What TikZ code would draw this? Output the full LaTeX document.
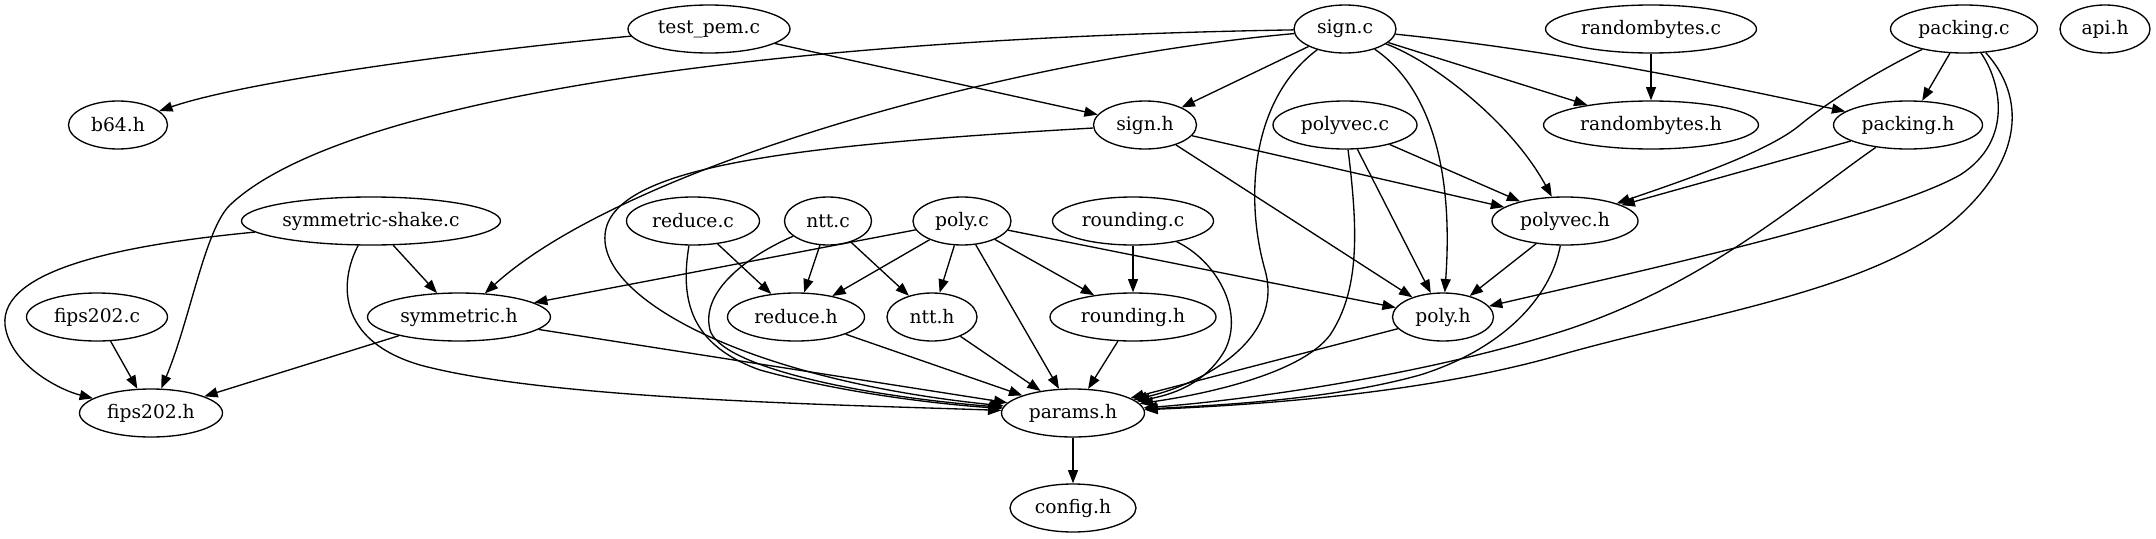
\documentclass[tikz,border=0pt]{standalone}
\usepackage{fontspec}
\setmainfont{DejaVu Serif}
\usetikzlibrary{shapes.geometric,arrows.meta}
\tikzset{
  nd/.style={ellipse, draw, line width=1pt, minimum height=36pt, inner sep=0pt,
             font=\fontsize{14}{16}\selectfont},
  ed/.style={-{Triangle[length=10pt,width=7.5pt]}, line width=1pt},
}
\begin{document}
\begin{tikzpicture}[x=0.75pt,y=-0.75pt]
\useasboundingbox (0,0) rectangle (2156,539);
% row 1
\node[nd, minimum width=121.5pt]  (test_pem) at (709,29)  {test\_pem.c};
\node[nd, minimum width=76.5pt]   (signc)    at (1345,29) {sign.c};
\node[nd, minimum width=158.25pt] (randc)    at (1651,29) {randombytes.c};
\node[nd, minimum width=110.25pt] (packc)    at (1964,29) {packing.c};
\node[nd, minimum width=67.5pt]   (api)      at (2105,29) {api.h};
% row 2
\node[nd, minimum width=74.25pt]  (b64)      at (118,125)  {b64.h};
\node[nd, minimum width=77.25pt]  (signh)    at (1145,125) {sign.h};
\node[nd, minimum width=108pt]    (polyvecc) at (1345,125) {polyvec.c};
\node[nd, minimum width=161.25pt] (randh)    at (1651,125) {randombytes.h};
\node[nd, minimum width=111.75pt] (packh)    at (1908,125) {packing.h};
% row 3
\node[nd, minimum width=194.25pt] (symshake) at (371,221)  {symmetric-shake.c};
\node[nd, minimum width=99.75pt]  (reducec)  at (693,221)  {reduce.c};
\node[nd, minimum width=65.25pt]  (nttc)     at (828,221)  {ntt.c};
\node[nd, minimum width=73.5pt]   (polyc)    at (962,221)  {poly.c};
\node[nd, minimum width=120.75pt] (roundc)   at (1133,221) {rounding.c};
\node[nd, minimum width=109.5pt]  (polyvech) at (1565,221) {polyvec.h};
% row 4
\node[nd, minimum width=105.75pt] (fipsc)    at (97,317)   {fips202.c};
\node[nd, minimum width=137.25pt] (symh)     at (459,317)  {symmetric.h};
\node[nd, minimum width=102.75pt] (reduceh)  at (796,317)  {reduce.h};
\node[nd, minimum width=67.5pt]   (ntth)     at (932,317)  {ntt.h};
\node[nd, minimum width=124.5pt]  (roundh)   at (1133,317) {rounding.h};
\node[nd, minimum width=75.75pt]  (polyh)    at (1443,317) {poly.h};
% row 5-6
\node[nd, minimum width=107.25pt] (fipsh)    at (151,413)  {fips202.h};
\node[nd, minimum width=107.25pt] (params)   at (1073,413) {params.h};
\node[nd, minimum width=94.5pt]   (config)   at (1073,508) {config.h};

% test_pem.c
\draw[ed] (test_pem) .. controls (480,50) and (250,80) .. (b64);
\draw[ed] (test_pem) -- (signh);
% sign.c
\draw[ed] (signc) .. controls (700,40) and (330,110) .. (230,205) .. controls (205,229) and (190,320) .. (fipsh);
\draw[ed] (signc) .. controls (1000,60) and (620,170) .. (symh);
\draw[ed] (signc) -- (signh);
\draw[ed] (signc) .. controls (1250,100) and (1245,200) .. (1265,270) .. controls (1285,340) and (1200,385) .. (params);
\draw[ed] (signc) .. controls (1420,80) and (1455,150) .. (polyh);
\draw[ed] (signc) .. controls (1430,60) and (1510,120) .. (polyvech);
\draw[ed] (signc) -- (randh);
\draw[ed] (signc) .. controls (1550,50) and (1700,80) .. (packh);
% sign.h
\draw[ed] (signh) .. controls (800,145) and (610,165) .. (605,235) .. controls (600,300) and (750,380) .. (params);
\draw[ed] (signh) -- (polyh);
\draw[ed] (signh) -- (polyvech);
% polyvec.c
\draw[ed] (polyvecc) .. controls (1358,230) and (1360,290) .. (1330,335) .. controls (1300,375) and (1200,395) .. (params);
\draw[ed] (polyvecc) -- (polyh);
\draw[ed] (polyvecc) -- (polyvech);
% randombytes.c
\draw[ed] (randc) -- (randh);
% packing.c
\draw[ed] (packc) -- (packh);
\draw[ed] (packc) .. controls (1880,70) and (1830,100) .. (1800,125) .. controls (1770,150) and (1700,175) .. (polyvech);
\draw[ed] (packc) .. controls (2000,80) and (2015,140) .. (1960,175) .. controls (1880,220) and (1600,280) .. (polyh);
\draw[ed] (packc) .. controls (2020,90) and (2030,150) .. (1960,215) .. controls (1880,290) and (1700,315) .. (1560,355) .. controls (1420,395) and (1250,405) .. (params);
% packing.h
\draw[ed] (packh) -- (polyvech);
\draw[ed] (packh) .. controls (1800,200) and (1700,290) .. (1550,335) .. controls (1420,375) and (1250,400) .. (params);
% symmetric-shake.c
\draw[ed] (symshake) .. controls (120,245) and (0,270) .. (5,325) .. controls (10,365) and (60,390) .. (fipsh);
\draw[ed] (symshake) -- (symh);
\draw[ed] (symshake) .. controls (340,280) and (335,340) .. (420,365) .. controls (550,400) and (850,405) .. (params);
% reduce.c
\draw[ed] (reducec) -- (reduceh);
\draw[ed] (reducec) .. controls (680,300) and (690,345) .. (760,370) .. controls (850,395) and (950,405) .. (params);
% ntt.c
\draw[ed] (nttc) -- (reduceh);
\draw[ed] (nttc) -- (ntth);
\draw[ed] (nttc) .. controls (750,255) and (700,290) .. (710,330) .. controls (720,365) and (850,395) .. (params);
% poly.c
\draw[ed] (polyc) -- (symh);
\draw[ed] (polyc) -- (reduceh);
\draw[ed] (polyc) -- (ntth);
\draw[ed] (polyc) -- (params);
\draw[ed] (polyc) -- (roundh);
\draw[ed] (polyc) -- (polyh);
% rounding.c
\draw[ed] (roundc) -- (roundh);
\draw[ed] (roundc) .. controls (1215,260) and (1245,310) .. (1225,350) .. controls (1205,385) and (1170,395) .. (params);
% polyvec.h
\draw[ed] (polyvech) -- (polyh);
\draw[ed] (polyvech) .. controls (1550,300) and (1500,350) .. (1420,375) .. controls (1330,400) and (1220,405) .. (params);
% row 4
\draw[ed] (fipsc) -- (fipsh);
\draw[ed] (symh) -- (fipsh);
\draw[ed] (symh) -- (params);
\draw[ed] (reduceh) -- (params);
\draw[ed] (ntth) -- (params);
\draw[ed] (roundh) -- (params);
\draw[ed] (polyh) -- (params);
\draw[ed] (params) -- (config);
\end{tikzpicture}
\end{document}
